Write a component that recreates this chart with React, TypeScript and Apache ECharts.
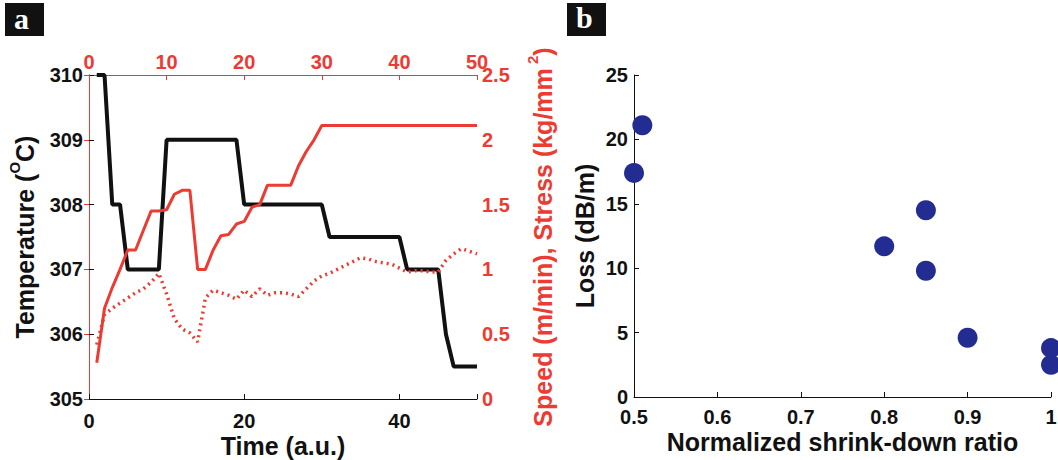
import React, { useEffect, useRef } from 'react';
import * as echarts from 'echarts';

// Panel a: temperature (left axis)
const tempTime = [1, 2, 3, 4, 5, 9, 10, 19, 20, 30, 31, 40, 41, 45, 46, 47, 50];
const temperature = [310, 310, 308, 308, 307, 307, 309, 309, 308, 308, 307.5, 307.5, 307, 307, 306, 305.5, 305.5];

// Panel a: speed & stress (right axis), sampled at t = 1..50
const sampleTime = [
  1, 2, 3, 4, 5, 6, 7, 8, 9, 10, 11, 12, 13, 14, 15, 16, 17, 18, 19, 20, 21, 22, 23, 24, 25,
  26, 27, 28, 29, 30, 31, 32, 33, 34, 35, 36, 37, 38, 39, 40, 41, 42, 43, 44, 45, 46, 47, 48, 49, 50,
];
const speed = [
  0.28, 0.7, 0.86, 1.0, 1.15, 1.15, 1.3, 1.45, 1.45, 1.46, 1.58, 1.61, 1.61, 1.0, 1.0, 1.15, 1.26, 1.27, 1.35, 1.37,
  1.48, 1.5, 1.65, 1.65, 1.65, 1.65, 1.8, 1.91, 2.0, 2.11, 2.11, 2.11, 2.11, 2.11, 2.11, 2.11, 2.11, 2.11, 2.11, 2.11,
  2.11, 2.11, 2.11, 2.11, 2.11, 2.11, 2.11, 2.11, 2.11, 2.11,
];
const stress = [
  0.42, 0.65, 0.7, 0.74, 0.78, 0.82, 0.85, 0.9, 0.97, 0.81, 0.62, 0.54, 0.51, 0.44, 0.78, 0.84, 0.82, 0.8, 0.77, 0.84,
  0.79, 0.85, 0.8, 0.82, 0.82, 0.81, 0.79, 0.85, 0.91, 0.95, 0.97, 1.0, 1.03, 1.06, 1.09, 1.08, 1.06, 1.05, 1.04, 1.01,
  0.98, 0.99, 0.99, 0.98, 0.98, 1.07, 1.12, 1.16, 1.14, 1.12,
];

// Panel b
const shrinkRatio = [0.51, 0.5, 0.85, 0.8, 0.85, 0.9, 1.0, 1.0];
const lossDb = [21.1, 17.4, 14.5, 11.7, 9.8, 4.6, 3.8, 2.5];

const FONT = 'Liberation Sans, Arial, sans-serif';
const RED = '#ec3b32';
const BLACK = '#111111';
const BLUE = '#232d91';

const zip = (a: number[], b: number[]) => a.map((v, i) => [v, b[i]]);

export default function App() {
  const ref = useRef<HTMLDivElement>(null);

  useEffect(() => {
    if (!ref.current) return;
    const chart = echarts.init(ref.current, undefined, { renderer: 'svg' });

    const tickLabel = (color: string) => ({
      color,
      fontFamily: FONT,
      fontWeight: 'bold' as const,
      fontSize: 20,
    });
    const inTick = (color: string) => ({ show: true, inside: true, length: 5, lineStyle: { color, width: 1 } });
    const line = (color: string) => ({ show: true, lineStyle: { color, width: 1 } });

    const option: any = {
      animation: false,
      backgroundColor: '#ffffff',
      grid: [
        { left: 89, top: 75, width: 388, height: 324, containLabel: false, outerBoundsMode: 'none' },
        { left: 634, top: 75, width: 417, height: 322, containLabel: false, outerBoundsMode: 'none' },
      ],
      xAxis: [
        {
          gridIndex: 0,
          type: 'value',
          position: 'bottom',
          min: 0,
          max: 50,
          interval: 20,
          splitLine: { show: false },
          axisLine: line(BLACK),
          axisTick: inTick(BLACK),
          axisLabel: {
            ...tickLabel(BLACK),
            margin: 12,
            formatter: (v: number) => (v === 50 ? '' : String(v)),
          },
          name: 'Time (a.u.)',
          nameLocation: 'middle',
          nameGap: 34,
          nameMoveOverlap: false,
          nameTextStyle: { color: BLACK, fontFamily: FONT, fontWeight: 'bold', fontSize: 25 },
        },
        {
          gridIndex: 0,
          type: 'value',
          position: 'top',
          min: 0,
          max: 50,
          interval: 10,
          splitLine: { show: false },
          axisLine: line(RED),
          axisTick: inTick(RED),
          axisLabel: { ...tickLabel(RED), margin: 3 },
        },
        {
          gridIndex: 1,
          type: 'value',
          position: 'bottom',
          min: 0.5,
          max: 1,
          interval: 0.1,
          splitLine: { show: false },
          axisLine: line(BLACK),
          axisTick: inTick(BLACK),
          axisLabel: {
            ...tickLabel(BLACK),
            margin: 10,
            formatter: (v: number) => String(Number(v.toFixed(1))),
          },
          name: 'Normalized shrink-down ratio',
          nameLocation: 'middle',
          nameGap: 32,
          nameMoveOverlap: false,
          nameTextStyle: { color: BLACK, fontFamily: FONT, fontWeight: 'bold', fontSize: 25 },
        },
      ],
      yAxis: [
        {
          gridIndex: 0,
          type: 'value',
          position: 'left',
          min: 305,
          max: 310,
          interval: 1,
          splitLine: { show: false },
          axisLine: line(BLACK),
          axisTick: inTick(BLACK),
          axisLabel: { ...tickLabel(BLACK), margin: 6 },
          name: '{n|Temperature (}{s|O}{n|C)}',
          nameLocation: 'middle',
          nameGap: 52,
          nameMoveOverlap: false,
          nameTextStyle: {
            color: BLACK,
            fontFamily: FONT,
            fontWeight: 'bold',
            fontSize: 25,
            rich: {
              n: { color: BLACK, fontFamily: FONT, fontWeight: 'bold', fontSize: 25, lineHeight: 30, verticalAlign: 'bottom' },
              s: { color: BLACK, fontFamily: FONT, fontWeight: 'bold', fontSize: 15, lineHeight: 30, verticalAlign: 'top' },
            },
          },
        },
        {
          gridIndex: 0,
          type: 'value',
          position: 'right',
          min: 0,
          max: 2.5,
          interval: 0.5,
          splitLine: { show: false },
          axisLine: line(RED),
          axisTick: inTick(RED),
          axisLabel: { ...tickLabel(RED), margin: 5 },
          name: '{n|Speed (m/min), Stress (kg/mm}{s| 2}{n|)}',
          nameLocation: 'middle',
          nameGap: 48,
          nameMoveOverlap: false,
          nameTextStyle: {
            color: RED,
            fontFamily: FONT,
            fontWeight: 'bold',
            fontSize: 25,
            rich: {
              n: { color: RED, fontFamily: FONT, fontWeight: 'bold', fontSize: 25, lineHeight: 30, verticalAlign: 'bottom' },
              s: { color: RED, fontFamily: FONT, fontWeight: 'bold', fontSize: 15, lineHeight: 30, verticalAlign: 'top' },
            },
          },
        },
        {
          gridIndex: 1,
          type: 'value',
          position: 'left',
          min: 0,
          max: 25,
          interval: 5,
          splitLine: { show: false },
          axisLine: line(BLACK),
          axisTick: inTick(BLACK),
          axisLabel: { ...tickLabel(BLACK), margin: 6 },
          name: 'Loss (dB/m)',
          nameLocation: 'middle',
          nameGap: 37,
          nameMoveOverlap: false,
          nameTextStyle: { color: BLACK, fontFamily: FONT, fontWeight: 'bold', fontSize: 25 },
        },
      ],
      series: [
        {
          name: 'Temperature',
          type: 'line',
          xAxisIndex: 0,
          yAxisIndex: 0,
          data: zip(tempTime, temperature),
          showSymbol: false,
          lineStyle: { color: BLACK, width: 4 },
          z: 3,
        },
        {
          name: 'Speed',
          type: 'line',
          xAxisIndex: 1,
          yAxisIndex: 1,
          data: zip(sampleTime, speed),
          showSymbol: false,
          lineStyle: { color: RED, width: 3 },
          z: 4,
        },
        {
          name: 'Stress',
          type: 'line',
          xAxisIndex: 1,
          yAxisIndex: 1,
          data: zip(sampleTime, stress),
          showSymbol: false,
          lineStyle: { color: RED, width: 3.5, type: [2, 4] },
          z: 4,
        },
        {
          name: 'Loss',
          type: 'scatter',
          xAxisIndex: 2,
          yAxisIndex: 2,
          data: zip(shrinkRatio, lossDb),
          symbol: 'circle',
          symbolSize: 20,
          itemStyle: { color: BLUE, opacity: 1 },
        },
      ],
      graphic: [
        { type: 'rect', left: 5, top: 3, shape: { width: 39, height: 33 }, style: { fill: '#111' } },
        {
          type: 'text',
          left: 14,
          top: 3,
          style: { text: 'a', fill: '#fff', font: 'bold 30px "Liberation Serif", serif' },
        },
        { type: 'rect', left: 567, top: 3, shape: { width: 39, height: 33 }, style: { fill: '#111' } },
        {
          type: 'text',
          left: 576,
          top: 2,
          style: { text: 'b', fill: '#fff', font: 'bold 30px "Liberation Serif", serif' },
        },
      ],
    };

    chart.setOption(option);
    return () => chart.dispose();
  }, []);

  return (
    <div
      ref={ref}
      style={{ position: 'absolute', left: 0, top: 0, width: 1058, height: 460, background: '#fff' }}
    />
  );
}
